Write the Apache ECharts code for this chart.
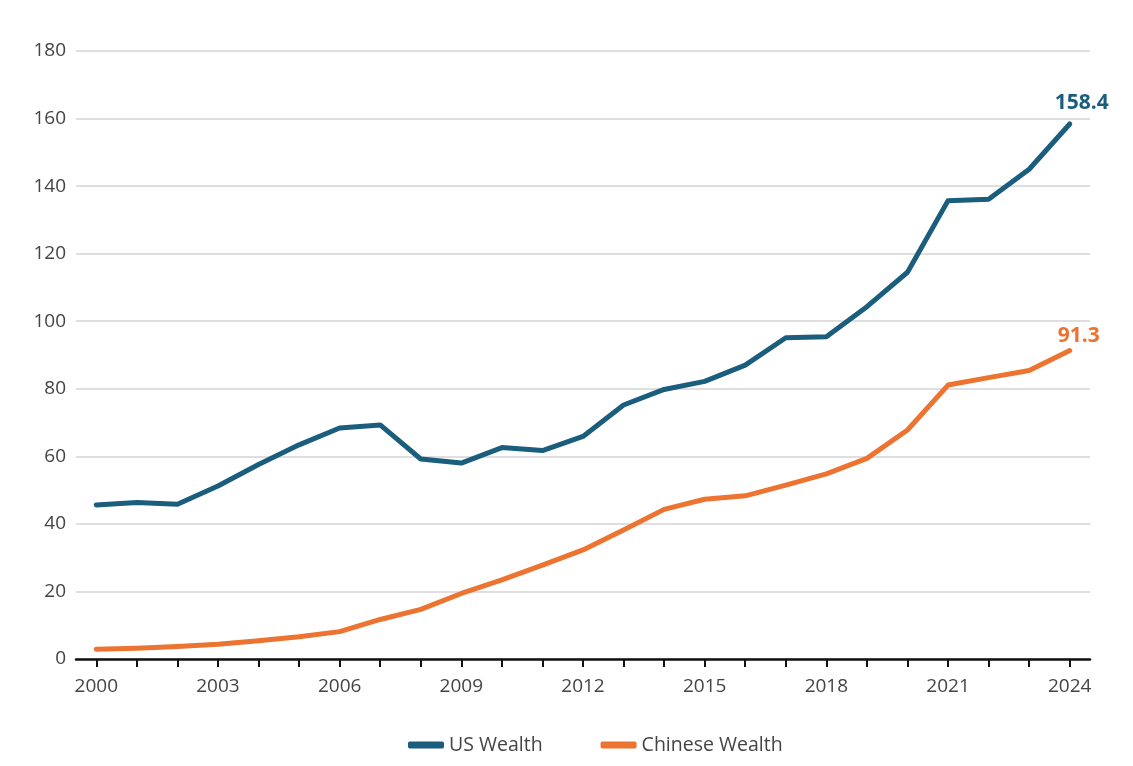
<!DOCTYPE html>
<html>
<head>
<meta charset="utf-8">
<script src="https://cdn.jsdelivr.net/npm/echarts@6/dist/echarts.min.js"></script>
<style>
html,body{margin:0;padding:0;background:#fff;}
#chart{width:1133px;height:766px;}
</style>
</head>
<body>
<div id="chart"></div>
<script>
var years = ['2000','2001','2002','2003','2004','2005','2006','2007','2008','2009','2010','2011','2012','2013','2014','2015','2016','2017','2018','2019','2020','2021','2022','2023','2024'];
var usWealth = [45.6,46.3,45.8,51.2,57.6,63.4,68.4,69.3,59.2,58.0,62.6,61.7,65.9,75.2,79.8,82.2,87.0,95.1,95.4,104.3,114.5,135.7,136.1,145.0,158.4];
var chineseWealth = [2.9,3.2,3.7,4.4,5.4,6.6,8.1,11.7,14.7,19.4,23.4,27.8,32.3,38.2,44.3,47.3,48.3,51.5,54.8,59.4,67.8,81.1,83.3,85.4,91.3];
var yTicks = [0,20,40,60,80,100,120,140,160,180];

var US_COLOR = '#1b5d7d';
var CN_COLOR = '#ec7330';
var FONT = '"Open Sans", sans-serif';

function withEndLabel(arr, color, offset) {
  return arr.map(function (v, i) {
    if (i === arr.length - 1) {
      return {
        value: v,
        label: {
          show: true,
          position: 'top',
          distance: 0,
          offset: offset,
          color: color,
          fontFamily: FONT,
          fontWeight: 'bold',
          fontSize: 21,
          formatter: function (p) { return p.value.toFixed(1); }
        }
      };
    }
    return v;
  });
}

var chart = echarts.init(document.getElementById('chart'));
chart.setOption({
  animation: false,
  backgroundColor: '#fff',
  grid: { left: 76, right: 43, top: 51, bottom: 107, containLabel: false },
  legend: {
    bottom: 6,
    left: 403,
    itemWidth: 36,
    itemHeight: 7,
    itemGap: 58,
    icon: 'roundRect',
    textStyle: { fontFamily: FONT, fontSize: 19.5, color: '#444' },
    data: ['US Wealth', 'Chinese Wealth']
  },
  xAxis: {
    type: 'category',
    data: years,
    boundaryGap: true,
    axisLine: { lineStyle: { color: '#111', width: 2.5 } },
    axisTick: { show: true, alignWithLabel: true, interval: 0, length: 8, lineStyle: { color: '#111', width: 2 } },
    axisLabel: { interval: 2, color: '#444', fontFamily: FONT, fontSize: 19, margin: 18 },
    splitLine: { show: false }
  },
  yAxis: {
    type: 'value',
    min: yTicks[0],
    max: yTicks[yTicks.length - 1],
    interval: 20,
    axisLine: { show: false },
    axisTick: { show: false },
    axisLabel: { color: '#444', fontFamily: FONT, fontSize: 19, margin: 10 },
    splitLine: { lineStyle: { color: '#d4d4d4', width: 1.5 } }
  },
  series: [
    {
      name: 'US Wealth',
      type: 'line',
      data: withEndLabel(usWealth, US_COLOR, [12, -10]),
      showSymbol: true,
      symbol: 'circle',
      symbolSize: 0,
      color: US_COLOR,
      lineStyle: { color: US_COLOR, width: 5, cap: 'round', join: 'round' },
      z: 3
    },
    {
      name: 'Chinese Wealth',
      type: 'line',
      data: withEndLabel(chineseWealth, CN_COLOR, [9, -4]),
      showSymbol: true,
      symbol: 'circle',
      symbolSize: 0,
      color: CN_COLOR,
      lineStyle: { color: CN_COLOR, width: 5, cap: 'round', join: 'round' },
      z: 3
    }
  ]
});
</script>
</body>
</html>
